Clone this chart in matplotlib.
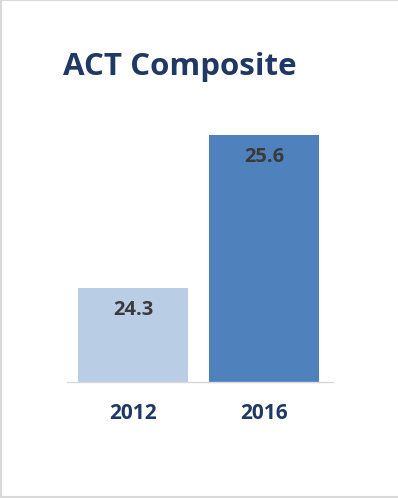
import matplotlib
matplotlib.use("Agg")
import matplotlib.pyplot as plt
from matplotlib.lines import Line2D

years = ["2012", "2016"]
scores = [24.3, 25.6]
bar_colors = ["#B9CDE5", "#4F81BD"]

plt.rcParams['font.family'] = ['Open Sans', 'DejaVu Sans']

W, H = 398, 498
fig = plt.figure(figsize=(W / 100, H / 100), dpi=100)
ax = fig.add_axes([67 / W, 116 / H, (333 - 67) / W, (410 - 116) / H])

x = range(len(years))
bars = ax.bar(x, scores, width=0.84, color=bar_colors, bottom=0)
ax.set_ylim(23.5, 26.0)
ax.set_xlim(-0.504, 1.527)

for b, v in zip(bars, scores):
    ax.annotate(f"{v:.1f}", (b.get_x() + b.get_width() / 2, v),
                xytext=(0, -22), textcoords="offset pixels",
                ha="center", va="center", fontsize=14.5, fontweight="bold",
                color="#3A3A3A")

ax.set_xticks(list(x))
ax.set_xticklabels(years, fontsize=15, fontweight="bold", color="#1F3864")
ax.tick_params(axis="x", length=0, pad=15)
ax.set_yticks([])
for s in ["top", "right", "left"]:
    ax.spines[s].set_visible(False)
ax.spines["bottom"].set_color("#D9D9D9")
ax.spines["bottom"].set_linewidth(1)

fig.text(63 / W, 1 - 67 / H, "ACT Composite", ha="left", va="center",
         fontsize=22.5, fontweight="bold", color="#1F3864")

# light gray frame (left, top, bottom)
c = "#D9D9D9"
fig.add_artist(Line2D([0.5 / W, 0.5 / W], [0, 1], color=c, lw=1.5, transform=fig.transFigure))
fig.add_artist(Line2D([0, 1], [1 - 0.5 / H, 1 - 0.5 / H], color=c, lw=1.5, transform=fig.transFigure))
fig.add_artist(Line2D([0, 1], [1 / H, 1 / H], color=c, lw=1.5, transform=fig.transFigure))

fig.savefig("out.png", dpi=100)
